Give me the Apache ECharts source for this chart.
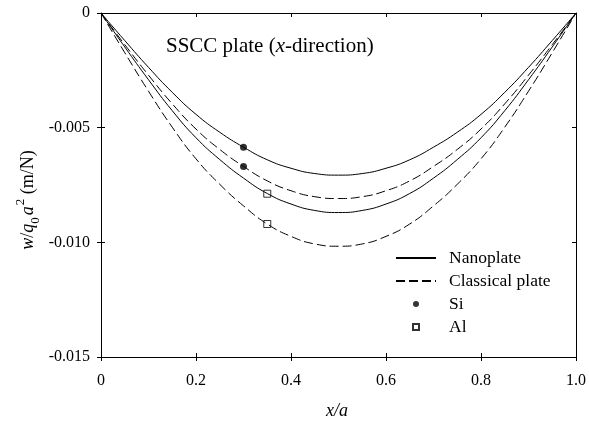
<!DOCTYPE html>
<html>
<head>
<meta charset="utf-8">
<script src="https://cdn.jsdelivr.net/npm/echarts@6/dist/echarts.min.js"></script>
<style>html,body{margin:0;padding:0;background:#fff}#c{width:589px;height:423px}</style>
</head>
<body>
<div id="c"></div>
<script>
// x positions (x/a)
var xs = [0, 0.05, 0.1, 0.15, 0.2, 0.25, 0.3, 0.35, 0.4, 0.45, 0.5, 0.55, 0.6, 0.65, 0.7, 0.75, 0.8, 0.85, 0.9, 0.95, 1.0];
// Si nanoplate (solid, upper)
var siNano = [0, -0.00120, -0.00237, -0.00346, -0.00442, -0.00520, -0.00585, -0.00640, -0.00677, -0.00700, -0.00707, -0.00700, -0.00677, -0.00640, -0.00585, -0.00520, -0.00442, -0.00346, -0.00237, -0.00120, 0];
// Si classical plate (dashed)
var siClass = [0, -0.00138, -0.00271, -0.00396, -0.00506, -0.00595, -0.00669, -0.00732, -0.00775, -0.00801, -0.00809, -0.00801, -0.00775, -0.00732, -0.00669, -0.00595, -0.00506, -0.00396, -0.00271, -0.00138, 0];
// Al nanoplate (solid, lower)
var alNano = [0, -0.00148, -0.00291, -0.00426, -0.00544, -0.00639, -0.00720, -0.00787, -0.00833, -0.00861, -0.00870, -0.00861, -0.00833, -0.00787, -0.00720, -0.00639, -0.00544, -0.00426, -0.00291, -0.00148, 0];
// Al classical plate (dashed)
var alClass = [0, -0.00173, -0.00341, -0.00498, -0.00636, -0.00747, -0.00841, -0.00920, -0.00974, -0.01007, -0.01017, -0.01007, -0.00974, -0.00920, -0.00841, -0.00747, -0.00636, -0.00498, -0.00341, -0.00173, 0];
// marker points
var siPts = [[0.3, -0.00585], [0.3, -0.00669]];
var alPts = [[0.35, -0.00788], [0.35, -0.00920]];
// ticks
var xTicks = [0, 0.2, 0.4, 0.6, 0.8, 1.0];
var yTicks = [0, -0.005, -0.010, -0.015];

function pairs(v) { return xs.map(function (x, i) { return [x, v[i]]; }); }

var FONT = 'Liberation Serif';
var chart = echarts.init(document.getElementById('c'), null, {renderer: 'canvas'});

function xAx(pos, inside, show) {
  return {
    type: 'value', min: 0, max: 1, interval: 0.2, position: pos,
    axisLine: {show: show, onZero: false, lineStyle: {color: '#000', width: 1}},
    axisTick: {show: true, inside: inside, length: 4, lineStyle: {color: '#000', width: 1}},
    axisLabel: {show: pos === 'bottom' && !inside, margin: 16, color: '#000', fontFamily: FONT, fontSize: 16,
      formatter: function (v) { return v === 0 ? '0' : v.toFixed(1); }},
    splitLine: {show: false}
  };
}
function yAx(pos, inside, show) {
  return {
    type: 'value', min: -0.015, max: 0, interval: 0.005, position: pos,
    axisLine: {show: show, onZero: false, lineStyle: {color: '#000', width: 1}},
    axisTick: {show: true, inside: inside, length: 4, lineStyle: {color: '#000', width: 1}},
    axisLabel: {show: pos === 'left' && !inside, margin: 11, color: '#000', fontFamily: FONT, fontSize: 16,
      formatter: function (v) { return Math.abs(v) < 1e-12 ? '0' : v.toFixed(3); }},
    splitLine: {show: false}
  };
}

var option = {
  animation: false,
  backgroundColor: '#fff',
  grid: {left: 101, right: 12, top: 13, bottom: 66},
  xAxis: [xAx('bottom', false, true), xAx('bottom', true, false), xAx('top', true, true)],
  yAxis: [yAx('left', false, true), yAx('left', true, false), yAx('right', true, true)],
  legend: {
    orient: 'vertical', left: 390, top: 244, itemWidth: 40, itemHeight: 6, itemGap: 5,
    textStyle: {fontFamily: FONT, fontSize: 17.5, color: '#000', lineHeight: 17.5, padding: [0, 0, 0, 8]},
    data: [
      {name: 'Nanoplate', itemStyle: {opacity: 0}},
      {name: 'Classical plate', itemStyle: {opacity: 0}},
      {name: 'Si', icon: 'circle'},
      {name: 'Al', icon: 'path://M0,0h10v10h-10z', symbolKeepAspect: true}
    ]
  },
  graphic: [
    {type: 'text', left: 166, top: 36, style: {
      text: '{n|SSCC plate (}{i|x}{n|-direction)}',
      rich: {n: {fontFamily: FONT, fontSize: 21, fill: '#000'}, i: {fontFamily: FONT, fontSize: 21, fontStyle: 'italic', fill: '#000'}}
    }},
    {type: 'text', left: 326, top: 402, style: {
      text: 'x/a', font: 'italic 18px "Liberation Serif"', fill: '#000'
    }},
    {type: 'text', x: 28, y: 200, rotation: Math.PI / 2, style: {
      text: '{i|w}{n|/}{i|q}{sub|0}{i|a}{sup|2}{n| (m/N)}',
      align: 'center', verticalAlign: 'middle',
      rich: {
        n: {fontFamily: FONT, fontSize: 18, fill: '#000', lineHeight: 28, verticalAlign: 'middle'},
        i: {fontFamily: FONT, fontSize: 18, fontStyle: 'italic', fill: '#000', lineHeight: 28, verticalAlign: 'middle'},
        sub: {fontFamily: FONT, fontSize: 13, fill: '#000', lineHeight: 28, verticalAlign: 'bottom', padding: [0, 2, 0, 0]},
        sup: {fontFamily: FONT, fontSize: 13, fill: '#000', lineHeight: 28, verticalAlign: 'top', padding: [0, 0, 0, 1]}
      }
    }}
  ],
  series: [
    {name: 'Nanoplate', type: 'line', smooth: true, symbol: 'none', data: pairs(siNano),
      lineStyle: {color: '#000', width: 1}, itemStyle: {color: '#000'}},
    {name: 'Classical plate', type: 'line', smooth: true, symbol: 'none', data: pairs(siClass),
      lineStyle: {color: '#000', width: 1, type: [9, 4]}, itemStyle: {color: '#000'}},
    {name: 'Nanoplate', type: 'line', smooth: true, symbol: 'none', data: pairs(alNano),
      lineStyle: {color: '#000', width: 1}, itemStyle: {color: '#000'}},
    {name: 'Classical plate', type: 'line', smooth: true, symbol: 'none', data: pairs(alClass),
      lineStyle: {color: '#000', width: 1, type: [9, 4]}, itemStyle: {color: '#000'}},
    {name: 'Si', type: 'scatter', symbol: 'circle', symbolSize: 7, data: siPts, z: 5,
      itemStyle: {color: '#000'}},
    {name: 'Al', type: 'scatter', symbol: 'rect', symbolSize: 7, data: alPts, z: 5,
      itemStyle: {color: 'rgba(255,255,255,0)', borderColor: '#000', borderWidth: 1}}
  ]
};
chart.setOption(option);
</script>
</body>
</html>
